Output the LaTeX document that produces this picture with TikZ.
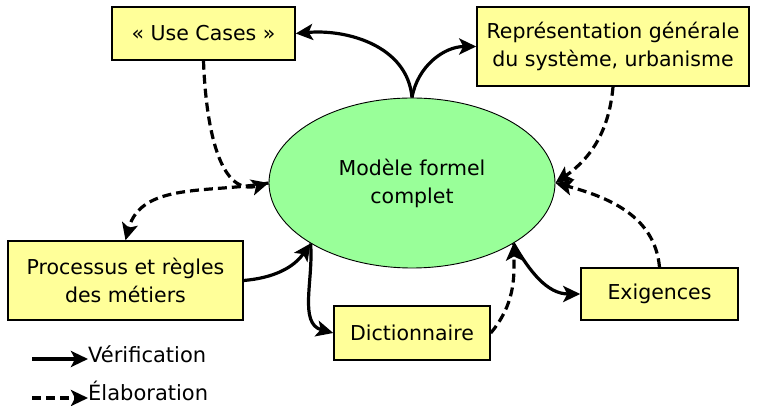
\documentclass[tikz,border=0pt]{standalone}
\usepackage{fontspec}
\setmainfont{DejaVu Sans}
\usetikzlibrary{arrows.meta,shapes.geometric}
\definecolor{boxyellow}{HTML}{FFFF99}
\definecolor{modelgreen}{HTML}{99FF99}
\tikzset{
  card/.style={draw=black, line width=1.5pt, fill=boxyellow, inner sep=0pt,
    align=center, font=\fontsize{20.5}{28}\selectfont},
  model/.style={ellipse, draw=black, line width=0.9pt, fill=modelgreen, inner sep=0pt,
    minimum width=286pt, minimum height=170pt, align=center,
    font=\fontsize{20.5}{28}\selectfont},
  verif/.style={line width=3.2pt, -{Stealth[length=17pt,width=16pt,inset=4pt]}},
  elab/.style={verif, dash pattern=on 9pt off 5pt},
  legendtext/.style={anchor=west, inner sep=0pt, font=\fontsize{21}{24}\selectfont}
}
\begin{document}
\begin{tikzpicture}[x=1pt,y=1pt]
\useasboundingbox (0,0) rectangle (757,406);

% central model
\node[model] (m) at (412,223) {Modèle formel\\complet};

% surrounding artefacts
\node[card, minimum width=183pt, minimum height=53pt] (uc) at (203.5,372.5) {« Use Cases »};
\node[card, minimum width=272pt, minimum height=79pt] (rep) at (613,359.5) {Représentation générale\\du système, urbanisme};
\node[card, minimum width=235pt, minimum height=79pt] (proc) at (125.5,125.5) {Processus et règles\\des métiers};
\node[card, minimum width=156pt, minimum height=54pt] (dict) at (412,73) {Dictionnaire};
\node[card, minimum width=157pt, minimum height=52pt] (exig) at (659.5,112) {Exigences};

% verification links
\draw[verif] (m.north) to[out=95,in=5] (uc.east);
\draw[verif] (m.north) to[out=80,in=180] (rep.west);
\draw[verif] (proc.east) to[out=5,in=235] (m.south west);
\draw[verif] (m.south west) to[out=-85,in=165] (dict.west);
\draw[verif] (m.south east) to[out=-60,in=180] (exig.west);

% elaboration links
\draw[elab] (uc.south) to[out=-88,in=195] (m.west);
\draw[elab] (m.west) to[out=190,in=75] (proc.north);
\draw[elab] (rep.south) to[out=-95,in=35] (m.east);
\draw[elab] (exig.north) to[out=95,in=-15] (m.east);
\draw[elab] (dict.east) to[out=50,in=-88] (m.south east);

% legend
\coordinate (l1) at (32,47);
\coordinate (l2) at (32,8);
\node[legendtext] (t1) at (88,52) {Vérification};
\node[legendtext] (t2) at (88,15) {Élaboration};
\draw[verif] (l1) -- (l1 -| t1.west);
\draw[elab] (l2) -- (l2 -| t2.west);
\end{tikzpicture}
\end{document}
